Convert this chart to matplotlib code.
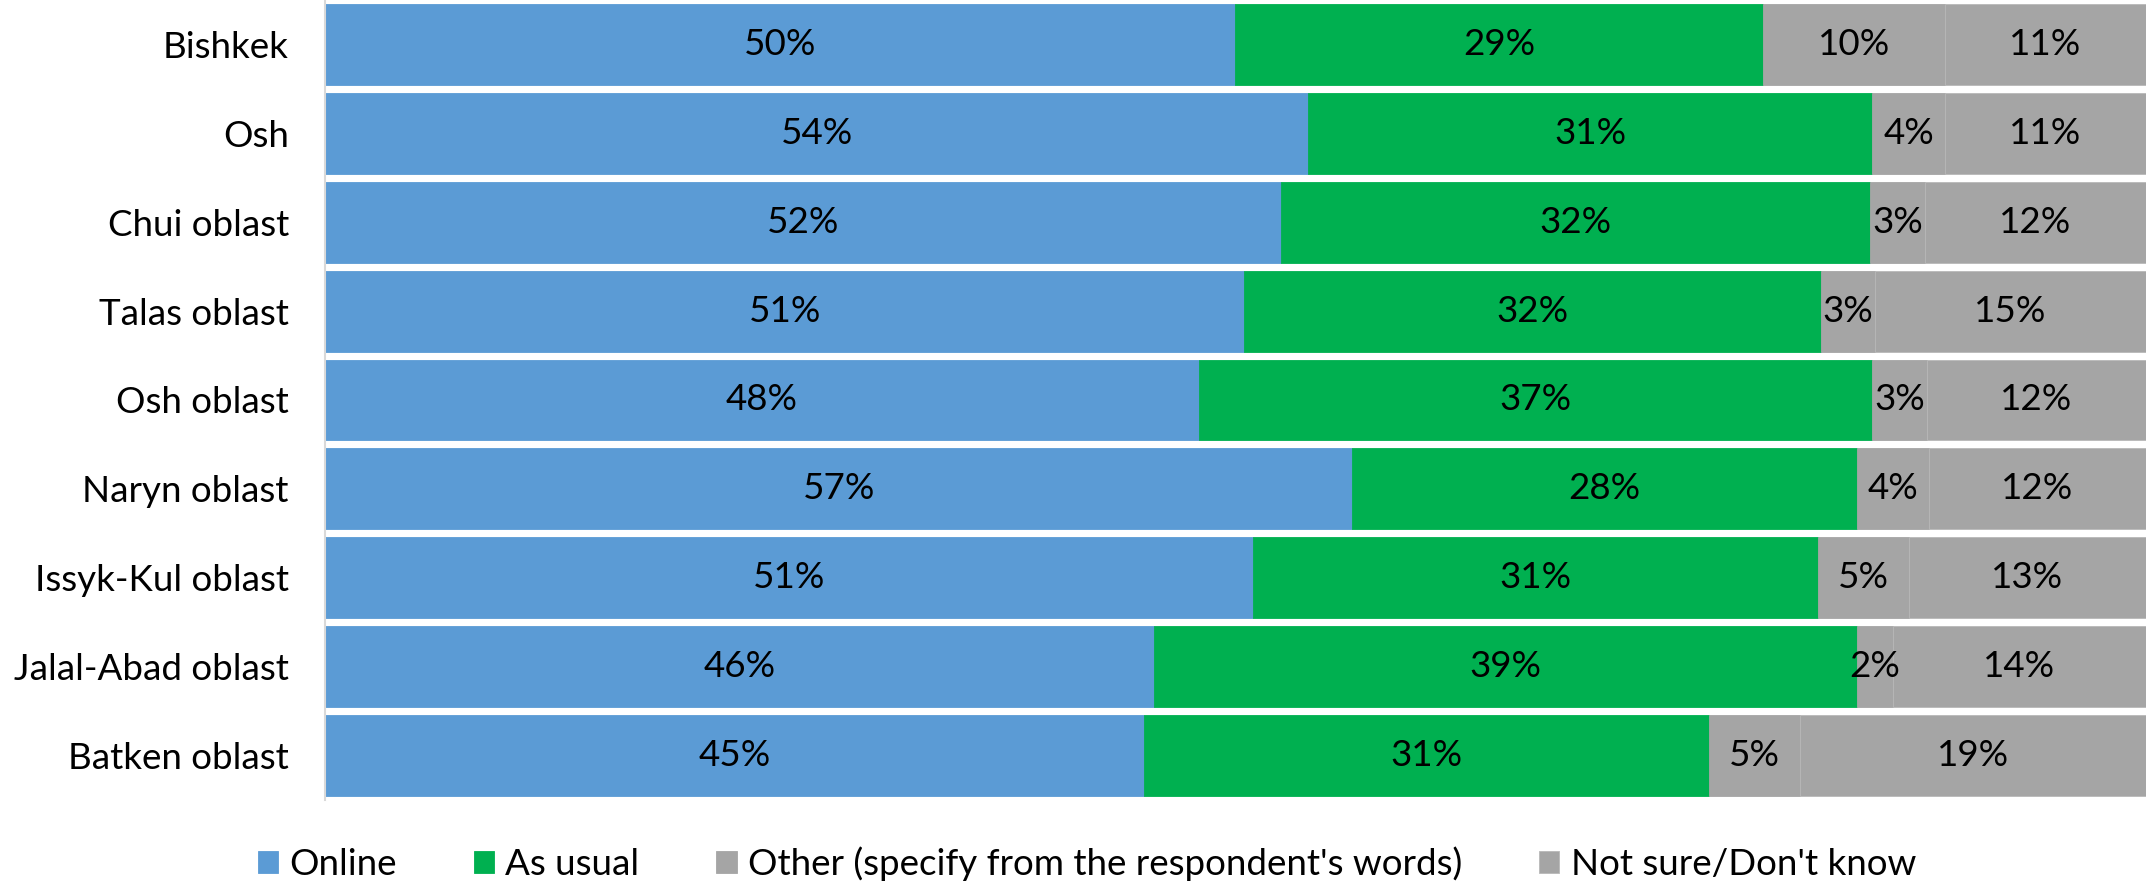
import matplotlib
matplotlib.use('Agg')
import matplotlib.pyplot as plt
import numpy as np

plt.rcParams['font.family'] = ['Lato', 'DejaVu Sans']

regions = ['Bishkek', 'Osh', 'Chui oblast', 'Talas oblast', 'Osh oblast',
           'Naryn oblast', 'Issyk-Kul oblast', 'Jalal-Abad oblast', 'Batken oblast']
series_names = ['Online', 'As usual', "Other (specify from the respondent's words)",
                "Not sure/Don't know"]
online   = [50, 54, 52, 51, 48, 57, 51, 46, 45]
as_usual = [29, 31, 32, 32, 37, 28, 31, 39, 31]
other    = [10, 4, 3, 3, 3, 4, 5, 2, 5]
not_sure = [11, 11, 12, 15, 12, 12, 13, 14, 19]
colors = ['#5B9BD5', '#00B050', '#A5A5A5', '#A5A5A5']

data = np.array([online, as_usual, other, not_sure], dtype=float)
shares = data / data.sum(axis=0) * 100   # 100% stacked

fig = plt.figure(figsize=(21.52, 8.83), dpi=100)
ax = fig.add_axes([0.151, 0.094, 0.846, 0.906])

y = np.arange(len(regions))
left = np.zeros(len(regions))
for i, name in enumerate(series_names):
    bars = ax.barh(y, shares[i], left=left, height=0.91, color=colors[i],
                   edgecolor='#B8B8B8' if i == 3 else colors[i], linewidth=0.6, label=name)
    for j, b in enumerate(bars):
        ax.text(left[j] + shares[i][j] / 2, y[j], f'{int(data[i][j])}%',
                ha='center', va='center', fontsize=26.5, color='black')
    left += shares[i]

ax.set_xlim(0, 100)
ax.set_ylim(len(regions) - 0.5, -0.5)
ax.set_yticks(y)
ax.set_yticklabels(regions, fontsize=26.5)
ax.set_xticks([])
ax.tick_params(axis='y', length=0, pad=26)
for s in ['top', 'right', 'bottom']:
    ax.spines[s].set_visible(False)
ax.spines['left'].set_color('#D9D9D9')
ax.spines['left'].set_linewidth(1.5)

fig.legend(loc='center', bbox_to_anchor=(0.505, 0.022), ncol=4, frameon=False,
           fontsize=26.5, handlelength=0.55, handleheight=0.55, handletextpad=0.3,
           columnspacing=2.1, borderpad=0)

fig.savefig('out.png', dpi=100)
